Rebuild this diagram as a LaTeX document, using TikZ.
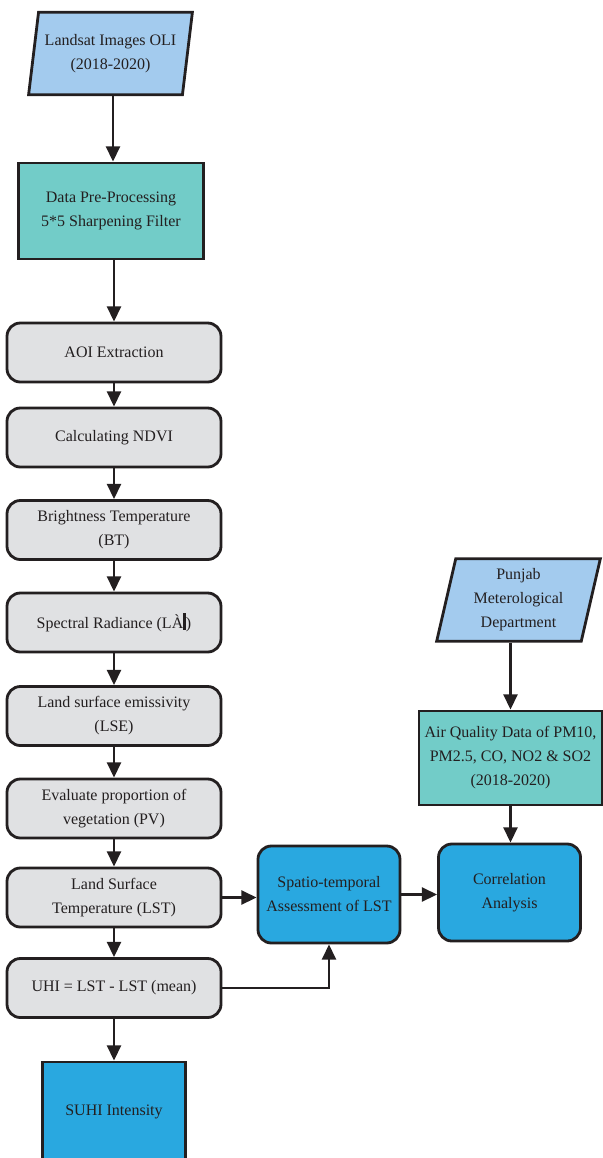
\documentclass[tikz,border=0pt]{standalone}
\usepackage{fontspec}
\setmainfont{Liberation Serif}
\usetikzlibrary{arrows.meta, shapes.geometric}
\definecolor{inkline}{HTML}{231F20}
\definecolor{inputblue}{HTML}{A3CBEE}
\definecolor{prepteal}{HTML}{72CCC8}
\definecolor{procgray}{HTML}{E0E1E3}
\definecolor{outblue}{HTML}{29A8E0}

\begin{document}
\begin{tikzpicture}[x=0.75pt, y=-0.75pt,
    every node/.style={draw=inkline, line width=2.1pt, text=inkline, align=center,
      font=\fontsize{12}{18}\selectfont},
    iobox/.style={trapezium, trapezium left angle=79, trapezium right angle=101,
      trapezium stretches=true, fill=inputblue, inner xsep=0.5pt,
      minimum width=123pt, minimum height=62pt},
    tealbox/.style={rectangle, fill=prepteal},
    procbox/.style={rectangle, rounded corners=10pt, fill=procgray,
      minimum width=160.5pt, minimum height=44.25pt},
    resbox/.style={rectangle, rounded corners=10pt, fill=outblue,
      minimum width=106.5pt, minimum height=72.75pt},
    flow/.style={line width=2pt, draw=inkline, -{Triangle[length=11.5pt, width=10.5pt]}}]
      \clip (0, 0) rectangle (603, 1158);

      \node[iobox] (landsat) at (110.5, 53.5) {Landsat Images OLI\\(2018-2020)};
      \node[tealbox, minimum width=138.75pt, minimum height=72pt] (prep) at (111, 211) {Data Pre-Processing\\5*5 Sharpening Filter};
      \node[procbox] (aoi) at (114, 352.5) {AOI Extraction};
      \node[procbox] (ndvi) at (114, 437.5) {Calculating NDVI};
      \node[procbox] (bt) at (114, 530) {Brightness Temperature\\(BT)};
      \node[procbox] (rad) at (114, 622.5) {Spectral Radiance (LÀ\rule[-1pt]{2pt}{12.5pt})};
      \node[procbox] (lse) at (114, 716) {Land surface emissivity\\(LSE)};
      \node[procbox] (pv) at (114, 808.5) {Evaluate proportion of\\vegetation (PV)};
      \node[procbox] (lst) at (114, 897.5) {Land Surface\\Temperature (LST)};
      \node[procbox] (uhi) at (114, 988) {UHI = LST - LST (mean)};
      \node[rectangle, fill=outblue, minimum width=107.25pt, minimum height=75pt] (suhi) at (114, 1112) {SUHI Intensity};

      \node[resbox] (spatio) at (329, 894.5) {Spatio-temporal\\Assessment of LST};
      \node[resbox] (corr) at (509.5, 892.5) {Correlation\\Analysis};
      \node[iobox] (punjab) at (518.5, 600) {Punjab\\Meterological\\Department};
      \node[tealbox, minimum width=137.25pt, minimum height=70.5pt, inner xsep=0.5pt] (air) at (510.5, 758) {Air Quality Data of PM10,\\PM2.5, CO, NO2 \& SO2\\(2018-2020)};

      \draw[flow] (landsat.south -| 113, 0) -- (prep.north -| 113, 0);
      \draw[flow] (prep.south -| aoi.north) -- (aoi.north);
      \draw[flow] (aoi) -- (ndvi);
      \draw[flow] (ndvi) -- (bt);
      \draw[flow] (bt) -- (rad);
      \draw[flow] (rad) -- (lse);
      \draw[flow] (lse) -- (pv);
      \draw[flow] (pv) -- (lst);
      \draw[flow] (lst) -- (uhi);
      \draw[flow] (uhi) -- (suhi);
      \draw[flow] (lst.east) -- (lst.east -| spatio.west);
      \draw[flow] (spatio.east) -- (spatio.east -| corr.west);
      \draw[flow] (uhi.east) -| (spatio.south);
      \draw[flow] (air.north |- punjab.south) -- (air.north);
      \draw[flow] (air.south) -- (air.south |- corr.north);
    \end{tikzpicture}
\end{document}
